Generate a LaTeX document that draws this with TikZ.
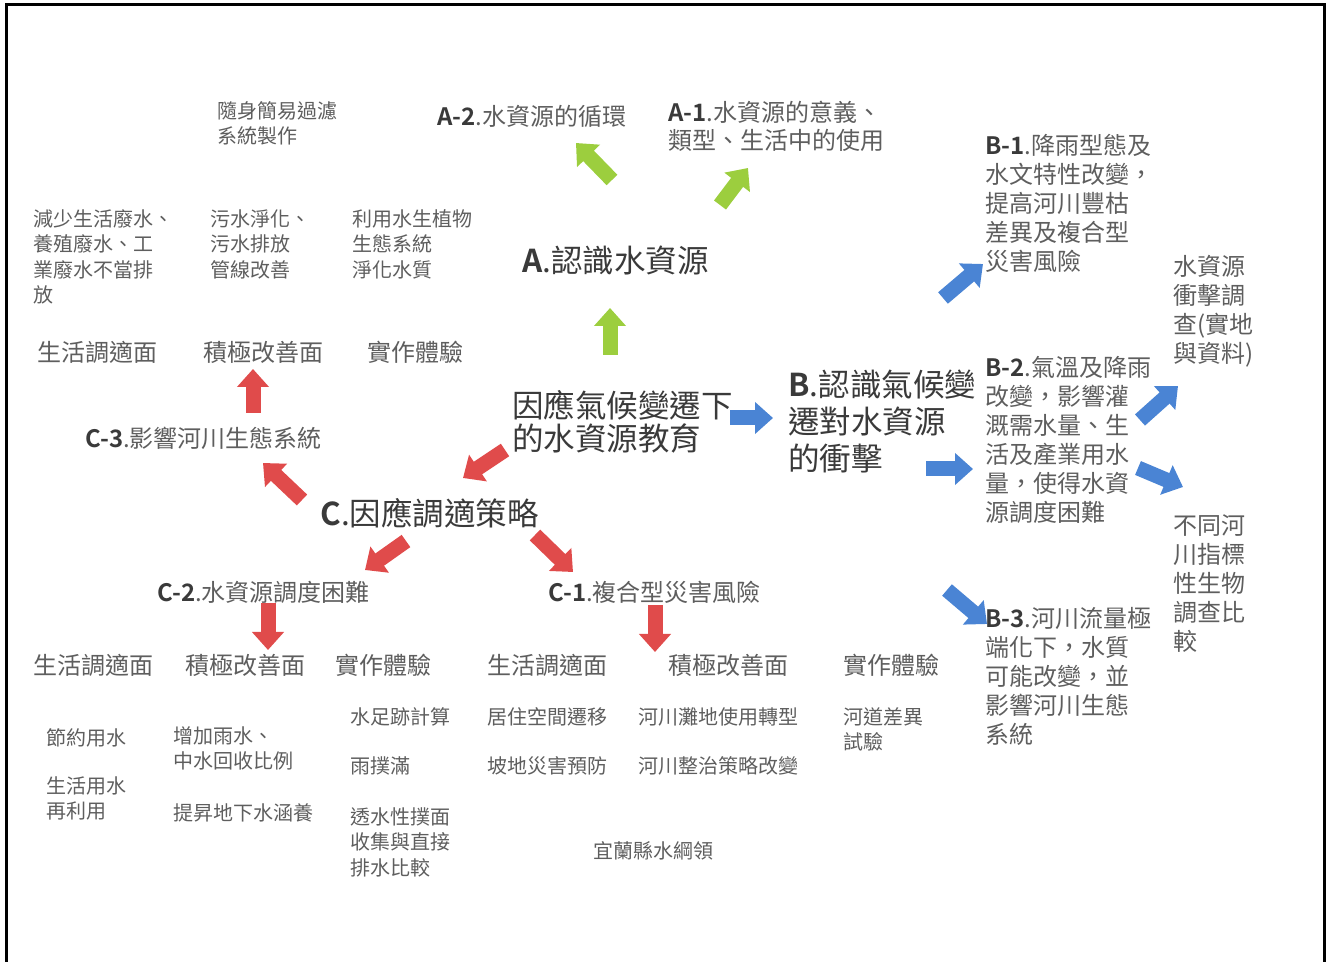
\documentclass[tikz,border=0pt]{standalone}
\usepackage{fontspec}
\setmainfont{Noto Sans CJK TC}[BoldFont={Noto Sans CJK TC Bold}]
\usetikzlibrary{arrows.meta}
\definecolor{txtgray}{HTML}{5E5E5E}
\definecolor{headgray}{HTML}{3A3A3A}
\definecolor{agreen}{HTML}{9CCE3E}
\definecolor{ablue}{HTML}{4A84D4}
\definecolor{ared}{HTML}{E04B4B}
\newcommand{\hd}[1]{{\bfseries\color{headgray}#1}}
\tikzset{
  itemtext/.style={anchor=north west, align=left, inner sep=0pt, text=txtgray, font=\fontsize{10}{12.75}\selectfont},
  subtext/.style={itemtext, font=\fontsize{12}{14.5}\selectfont},
  maintext/.style={itemtext, text=headgray, font=\fontsize{15.75}{18.5}\selectfont},
  blk/.style={line width=7.5pt, -{Triangle[length=9pt,width=15.5pt]}},
  garrow/.style={blk, draw=agreen},
  barrow/.style={blk, draw=ablue},
  rarrow/.style={blk, draw=ared}
}

\begin{document}
\begin{tikzpicture}[x=0.5pt,y=-0.5pt]
\useasboundingbox (0,0) rectangle (1330,962);
\draw [line width=1.5pt] (6,962) -- (6,5) -- (1324,5) -- (1324,962);

\node [maintext, font=\fontsize{15.75}{16.5}\selectfont] (root) at (512,390) {因應氣候變遷下\\的水資源教育};
\node [maintext] (A) at (522,246) {\hd{A}.認識水資源};
\node [maintext] (B) at (788,370) {\hd{B}.認識氣候變\\遷對水資源\\的衝擊};
\node [maintext] (C) at (320,498) {\hd{C}.因應調適策略};

\node [subtext] (A2) at (437,105) {\hd{A-2}.水資源的循環};
\node [subtext, font=\fontsize{12}{14}\selectfont] (A1) at (668,101) {\hd{A-1}.水資源的意義、\\類型、生活中的使用};
\node [itemtext] (filter) at (217,101) {隨身簡易過濾\\系統製作};
\node [itemtext] (waste) at (33,209) {減少生活廢水、\\養殖廢水、工\\業廢水不當排\\放};
\node [itemtext] (sewage) at (210,209) {污水淨化、\\污水排放\\管線改善};
\node [itemtext] (plant) at (352,209) {利用水生植物\\生態系統\\淨化水質};

\node [subtext] (C3life) at (37,341) {生活調適面};
\node [subtext] (C3act) at (203,341) {積極改善面};
\node [subtext] (C3exp) at (367,341) {實作體驗};
\node [subtext] (C3) at (85,427) {\hd{C-3}.影響河川生態系統};

\node [subtext] (B1) at (985,134) {\hd{B-1}.降雨型態及\\水文特性改變，\\提高河川豐枯\\差異及複合型\\災害風險};
\node [subtext] (survey) at (1173,255) {水資源\\衝擊調\\查(實地\\與資料)};
\node [subtext] (B2) at (985,356) {\hd{B-2}.氣溫及降雨\\改變，影響灌\\溉需水量、生\\活及產業用水\\量，使得水資\\源調度困難};
\node [subtext] (bio) at (1173,514) {不同河\\川指標\\性生物\\調查比\\較};
\node [subtext] (B3) at (985,607) {\hd{B-3}.河川流量極\\端化下，水質\\可能改變，並\\影響河川生態\\系統};

\node [subtext] (C2) at (157,581) {\hd{C-2}.水資源調度困難};
\node [subtext] (C1) at (548,581) {\hd{C-1}.複合型災害風險};
\node [subtext] (C2life) at (33,654) {生活調適面};
\node [subtext] (C2act) at (185,654) {積極改善面};
\node [subtext] (C2exp) at (335,654) {實作體驗};
\node [subtext] (C1life) at (487,654) {生活調適面};
\node [subtext] (C1act) at (668,654) {積極改善面};
\node [subtext] (C1exp) at (843,654) {實作體驗};

\node [itemtext] (save) at (46,728) {節約用水};
\node [itemtext] (reuse) at (46,776) {生活用水\\再利用};
\node [itemtext] (rain) at (173,726) {增加雨水、\\中水回收比例};
\node [itemtext] (ground) at (173,803) {提昇地下水涵養};
\node [itemtext] (foot) at (350,707) {水足跡計算};
\node [itemtext] (tank) at (350,756) {雨撲滿};
\node [itemtext] (pave) at (350,807) {透水性撲面\\收集與直接\\排水比較};
\node [itemtext] (move) at (487,707) {居住空間遷移};
\node [itemtext] (slope) at (487,756) {坡地災害預防};
\node [itemtext] (flood) at (638,707) {河川灘地使用轉型};
\node [itemtext] (river) at (638,756) {河川整治策略改變};
\node [itemtext] (channel) at (843,707) {河道差異\\試驗};
\node [itemtext] (yilan) at (593,841) {宜蘭縣水綱領};

\coordinate (g1s) at (610,355); \coordinate (g1e) at (610,308);
\coordinate (g2s) at (612,180); \coordinate (g2e) at (576,143);
\coordinate (g3s) at (720,205); \coordinate (g3e) at (748,168);
\coordinate (b1s) at (730,418); \coordinate (b1e) at (773,418);
\coordinate (b2s) at (943,298); \coordinate (b2e) at (983,264);
\coordinate (b3s) at (926,469); \coordinate (b3e) at (973,469);
\coordinate (b4s) at (1140,420); \coordinate (b4e) at (1178,386);
\coordinate (b5s) at (1138,468); \coordinate (b5e) at (1183,487);
\coordinate (b6s) at (947,590); \coordinate (b6e) at (987,624);
\coordinate (r1s) at (505,450); \coordinate (r1e) at (463,478);
\coordinate (r2s) at (302,500); \coordinate (r2e) at (263,463);
\coordinate (r3s) at (253,413); \coordinate (r3e) at (253,369);
\coordinate (r4s) at (406,541); \coordinate (r4e) at (365,570);
\coordinate (r5s) at (535,535); \coordinate (r5e) at (573,572);
\coordinate (r6s) at (268,603); \coordinate (r6e) at (268,650);
\coordinate (r7s) at (655,605); \coordinate (r7e) at (655,652);

\draw [garrow] (g1s) -- (g1e);
\draw [garrow] (g2s) -- (g2e);
\draw [garrow] (g3s) -- (g3e);
\draw [barrow] (b1s) -- (b1e);
\draw [barrow] (b2s) -- (b2e);
\draw [barrow] (b3s) -- (b3e);
\draw [barrow] (b4s) -- (b4e);
\draw [barrow] (b5s) -- (b5e);
\draw [barrow] (b6s) -- (b6e);
\draw [rarrow] (r1s) -- (r1e);
\draw [rarrow] (r2s) -- (r2e);
\draw [rarrow] (r3s) -- (r3e);
\draw [rarrow] (r4s) -- (r4e);
\draw [rarrow] (r5s) -- (r5e);
\draw [rarrow] (r6s) -- (r6e);
\draw [rarrow] (r7s) -- (r7e);
\end{tikzpicture}
\end{document}
